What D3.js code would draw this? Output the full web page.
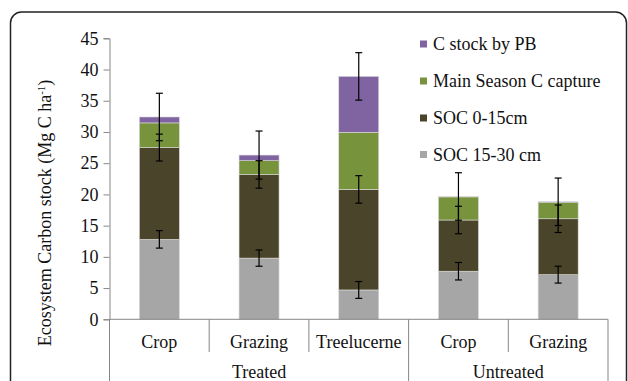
<!DOCTYPE html>
<html><head><meta charset="utf-8">
<script src="https://cdn.jsdelivr.net/npm/d3@7"></script>
<style>body{margin:0;background:#fff}svg{display:block}svg text{font-family:"Liberation Serif","Times New Roman",serif !important}</style>
</head><body><svg id="c" width="628" height="381"></svg>
<script>
const categories = ["Crop","Grazing","Treelucerne","Crop","Grazing"];
const groups = [{name:"Treated", start:0, end:3},{name:"Untreated", start:3, end:5}];
const seriesNames = ["SOC 15-30 cm","SOC 0-15cm","Main Season C capture","C stock by PB"];
const soc1530 = [12.8, 9.8, 4.7, 7.7, 7.15];
const soc015  = [14.7, 13.4, 16.1, 8.2, 8.95];
const mainSeason = [3.95, 2.2, 9.15, 3.7, 2.65];
const pbStock = [0.95, 0.9, 8.95, 0.07, 0.07];
const errSoc1530 = [1.4, 1.3, 1.35, 1.4, 1.35];
const errSoc015 = [2.15, 2.2, 2.2, 2.2, 2.2];
const errTotal = [3.8, 3.85, 3.8, 3.8, 3.8];
const yTicks = [0,5,10,15,20,25,30,35,40,45];
const colors = ["#A6A6A6","#4A452A","#77933C","#8064A2"];
const FONT = "Liberation Serif";

const svg = d3.select("#c");
svg.append("rect").attr("x",10.5).attr("y",12).attr("width",616).attr("height",400)
  .attr("rx",11).attr("fill","none").attr("stroke","#222").attr("stroke-width",1.5);

const x0 = 109.5, x1 = 608;
const x = d3.scaleBand().domain(d3.range(categories.length)).range([x0,x1]).paddingInner(0).paddingOuter(0);
const y = d3.scaleLinear().domain([0,45]).range([319.3,38.3]);

const series = [soc1530, soc015, mainSeason, pbStock];
const stacked = d3.stack().keys([0,1,2,3]).value((d,k)=>series[k][d])(d3.range(categories.length));
const barW = 40;

const yAxis = d3.axisLeft(y).tickValues(yTicks).tickSize(6).tickPadding(5);
const ga = svg.append("g").attr("transform",`translate(${x0},0)`).call(yAxis).attr("font-family",FONT);
ga.select(".domain").attr("stroke","#868686");
ga.selectAll(".tick line").attr("stroke","#868686");
ga.selectAll(".tick text").attr("font-size",18).attr("fill","#111");

stacked.forEach((s,k)=>{
  svg.append("g").selectAll("rect").data(s).join("rect")
    .attr("x",(d,i)=>x(i)+x.bandwidth()/2-barW/2)
    .attr("width",barW)
    .attr("y",d=>y(d[1]))
    .attr("height",d=>y(d[0])-y(d[1]))
    .attr("fill",colors[k])
    .attr("stroke","#d9d9d9").attr("stroke-width",0.6);
});

svg.append("line").attr("x1",x0).attr("x2",x1).attr("y1",y(0)).attr("y2",y(0)).attr("stroke","#868686");
d3.range(categories.length+1).forEach(i=>{
  const xx = i<categories.length ? x(i) : x1;
  const isGroupEdge = groups.some(g=>g.start===i||g.end===i);
  svg.append("line").attr("x1",xx).attr("x2",xx).attr("y1",y(0)).attr("y2",isGroupEdge?381:352)
    .attr("stroke","#868686");
});
svg.selectAll(".cat").data(categories).join("text")
  .attr("x",(d,i)=>x(i)+x.bandwidth()/2).attr("y",347.5).attr("text-anchor","middle")
  .attr("font-family",FONT).attr("font-size",18).attr("fill","#111").text(d=>d);
svg.selectAll(".grp").data(groups).join("text")
  .attr("x",d=>(x(d.start)+(d.end<categories.length?x(d.end):x1))/2).attr("y",378)
  .attr("text-anchor","middle").attr("font-family",FONT).attr("font-size",18).attr("fill","#111").text(d=>d.name);

function errBars(centers, errs){
  const g = svg.append("g").attr("stroke","#000").attr("stroke-width",1.2);
  centers.forEach((c,i)=>{
    const cx = x(i)+x.bandwidth()/2;
    const t = y(c+errs[i]), b = y(c-errs[i]);
    g.append("line").attr("x1",cx).attr("x2",cx).attr("y1",t).attr("y2",b);
    g.append("line").attr("x1",cx-3.5).attr("x2",cx+3.5).attr("y1",t).attr("y2",t);
    g.append("line").attr("x1",cx-3.5).attr("x2",cx+3.5).attr("y1",b).attr("y2",b);
  });
}
errBars(stacked[0].map(d=>d[1]), errSoc1530);
errBars(stacked[1].map(d=>d[1]), errSoc015);
errBars(stacked[3].map(d=>d[1]), errTotal);

const legOrder = [3,2,1,0];
const legY = [44, 81, 118, 154.5];
legOrder.forEach((k,j)=>{
  svg.append("rect").attr("x",420).attr("y",legY[j]-3.5).attr("width",7).attr("height",7).attr("fill",colors[k]);
  svg.append("text").attr("x",433).attr("y",legY[j]+6).attr("font-family",FONT).attr("font-size",18).attr("fill","#111").text(seriesNames[k]);
});

const yt = svg.append("text").attr("transform","translate(51,213) rotate(-90)").attr("text-anchor","middle")
  .attr("font-family",FONT).attr("font-size",18).attr("fill","#111");
yt.append("tspan").text("Ecosystem Carbon stock (Mg C ha");
yt.append("tspan").attr("font-size",11).attr("dy",-6).text("-1");
yt.append("tspan").attr("dy",6).text(")");
</script></body></html>
